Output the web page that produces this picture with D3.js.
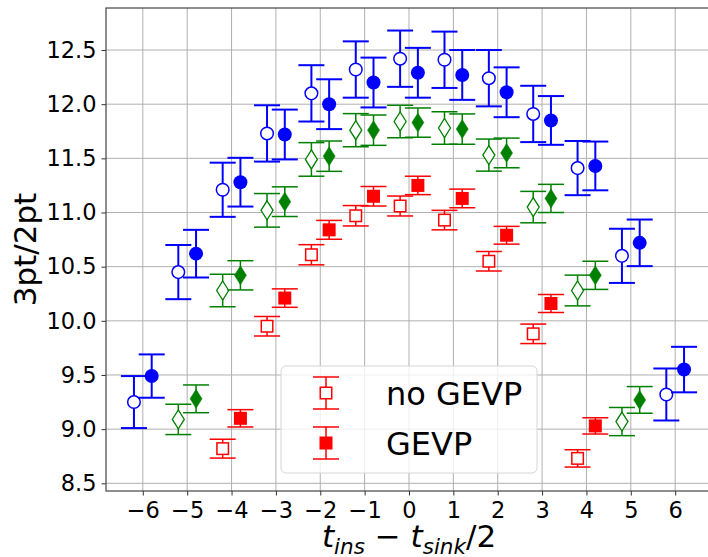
<!DOCTYPE html>
<html>
<head>
<meta charset="utf-8">
<script src="https://cdn.jsdelivr.net/npm/d3@7"></script>
<style>
	body { margin: 0; background: #fff; }
	svg { display: block; font-family: "DejaVu Sans", sans-serif; }
</style>
</head>
<body>
<div id="chart"></div>
<script>
// time slices per series
const T_BLUE = [-6, -5, -4, -3, -2, -1, 0, 1, 2, 3, 4, 5, 6];
const T_GREEN = [-5, -4, -3, -2, -1, 0, 1, 2, 3, 4, 5];
const T_RED = [-4, -3, -2, -1, 0, 1, 2, 3, 4];

// 3pt/2pt values (no GEVP = open, GEVP = filled)
const BLUE_NOGEVP = [9.25, 10.45, 11.21, 11.73, 12.10, 12.32, 12.42, 12.41, 12.24, 11.91, 11.41, 10.60, 9.32];
const BLUE_NOGEVP_ERR = [0.24, 0.25, 0.25, 0.26, 0.26, 0.26, 0.26, 0.26, 0.26, 0.26, 0.25, 0.25, 0.24];
const BLUE_GEVP = [9.49, 10.62, 11.28, 11.72, 12.00, 12.20, 12.29, 12.27, 12.11, 11.85, 11.43, 10.72, 9.55];
const BLUE_GEVP_ERR = [0.20, 0.22, 0.225, 0.23, 0.23, 0.23, 0.23, 0.23, 0.23, 0.225, 0.225, 0.215, 0.21];

const GREEN_NOGEVP = [9.09, 10.28, 11.02, 11.49, 11.76, 11.84, 11.78, 11.53, 11.05, 10.28, 9.07];
const GREEN_NOGEVP_ERR = [0.14, 0.15, 0.155, 0.155, 0.153, 0.15, 0.15, 0.148, 0.145, 0.142, 0.13];
const GREEN_GEVP = [9.28, 10.42, 11.10, 11.52, 11.76, 11.83, 11.77, 11.55, 11.13, 10.42, 9.27];
const GREEN_GEVP_ERR = [0.128, 0.135, 0.137, 0.14, 0.14, 0.135, 0.14, 0.137, 0.13, 0.13, 0.123];

const RED_NOGEVP = [8.82, 9.95, 10.61, 10.97, 11.06, 10.93, 10.55, 9.88, 8.73];
const RED_NOGEVP_ERR = [0.087, 0.09, 0.093, 0.094, 0.092, 0.09, 0.09, 0.09, 0.08];
const RED_GEVP = [9.10, 10.21, 10.84, 11.15, 11.25, 11.13, 10.79, 10.16, 9.03];
const RED_GEVP_ERR = [0.08, 0.085, 0.087, 0.09, 0.085, 0.086, 0.082, 0.083, 0.075];

const X_TICKS = [-6, -5, -4, -3, -2, -1, 0, 1, 2, 3, 4, 5, 6];
const Y_TICKS = [8.5, 9.0, 9.5, 10.0, 10.5, 11.0, 11.5, 12.0, 12.5];
const LEGEND_LABELS = ['no GEVP', 'GEVP'];

const WIDTH = 708;
const HEIGHT = 557;
const PLOT = { LEFT: 106, RIGHT: 712, TOP: 8, BOTTOM: 491 };
const SHIFT = 0.2;
const CAP = 13;

const svg = d3.select('#chart')
	.append('svg')
		.attr('width', WIDTH)
		.attr('height', HEIGHT);

const x = d3.scaleLinear()
	.domain([-6.83, 6.83])
	.range([PLOT.LEFT, PLOT.RIGHT]);

const y = d3.scaleLinear()
	.domain([8.429, 12.888])
	.range([PLOT.BOTTOM, PLOT.TOP]);

// grid
const grid = svg.append('g')
	.attr('stroke', '#b0b0b0')
	.attr('stroke-width', 1);

grid.selectAll('.vgrid')
	.data(X_TICKS)
	.enter().append('line')
		.attr('x1', d => x(d)).attr('x2', d => x(d))
		.attr('y1', PLOT.TOP).attr('y2', PLOT.BOTTOM);

grid.selectAll('.hgrid')
	.data(Y_TICKS)
	.enter().append('line')
		.attr('x1', PLOT.LEFT).attr('x2', PLOT.RIGHT)
		.attr('y1', d => y(d)).attr('y2', d => y(d));

// series
const series = [
	{ t: T_BLUE, v: BLUE_NOGEVP, e: BLUE_NOGEVP_ERR, color: '#0000ff', shape: 'circle', filled: false, shift: -SHIFT, lw: 2 },
	{ t: T_BLUE, v: BLUE_GEVP, e: BLUE_GEVP_ERR, color: '#0000ff', shape: 'circle', filled: true, shift: SHIFT, lw: 2 },
	{ t: T_GREEN, v: GREEN_NOGEVP, e: GREEN_NOGEVP_ERR, color: '#008000', shape: 'diamond', filled: false, shift: -SHIFT, lw: 1.5 },
	{ t: T_GREEN, v: GREEN_GEVP, e: GREEN_GEVP_ERR, color: '#008000', shape: 'diamond', filled: true, shift: SHIFT, lw: 1.5 },
	{ t: T_RED, v: RED_NOGEVP, e: RED_NOGEVP_ERR, color: '#ff0000', shape: 'square', filled: false, shift: -SHIFT, lw: 1.5 },
	{ t: T_RED, v: RED_GEVP, e: RED_GEVP_ERR, color: '#ff0000', shape: 'square', filled: true, shift: SHIFT, lw: 1.5 },
];

function drawMarker(g, shape, color, filled) {
	const fill = filled ? color : '#fff';
	if (shape === 'circle') {
		g.append('circle')
			.attr('r', filled ? 7 : 6.3)
			.attr('fill', fill)
			.attr('stroke', color)
			.attr('stroke-width', filled ? 0 : 1.5);
	} else if (shape === 'diamond') {
		g.append('path')
			.attr('d', 'M0,-9.5L6,0L0,9.5L-6,0Z')
			.attr('fill', fill)
			.attr('stroke', color)
			.attr('stroke-width', filled ? 0.5 : 1.3);
	} else {
		const s = filled ? 13 : 11.5;
		g.append('rect')
			.attr('x', -s / 2).attr('y', -s / 2)
			.attr('width', s).attr('height', s)
			.attr('fill', fill)
			.attr('stroke', color)
			.attr('stroke-width', filled ? 0 : 1.5);
	}
}

function drawErrorBar(g, color, lw, top, bottom) {
	g.append('line')
		.attr('x1', 0).attr('x2', 0)
		.attr('y1', top).attr('y2', bottom)
		.attr('stroke', color).attr('stroke-width', lw);
	[top, bottom].forEach(yy => {
		g.append('line')
			.attr('x1', -CAP).attr('x2', CAP)
			.attr('y1', yy).attr('y2', yy)
			.attr('stroke', color).attr('stroke-width', lw);
	});
}

series.forEach(s => {
	const pts = s.t.map((t, i) => ({ t: t + s.shift, v: s.v[i], e: s.e[i] }));
	const g = svg.append('g');
	g.selectAll('g')
		.data(pts)
		.enter().append('g')
			.attr('transform', d => `translate(${x(d.t)}, ${y(d.v)})`)
			.each(function (d) {
				const pg = d3.select(this);
				drawErrorBar(pg, s.color, s.lw, y(d.v + d.e) - y(d.v), y(d.v - d.e) - y(d.v));
				drawMarker(pg, s.shape, s.color, s.filled);
			});
});

// axes
const xAxis = d3.axisBottom(x)
	.tickValues(X_TICKS)
	.tickSize(4.5)
	.tickSizeOuter(0)
	.tickPadding(7);

const yAxis = d3.axisLeft(y)
	.tickValues(Y_TICKS)
	.tickFormat(d3.format('.1f'))
	.tickSize(4.5)
	.tickSizeOuter(0)
	.tickPadding(5);

const xAxisGroup = svg.append('g')
	.attr('transform', `translate(0, ${PLOT.BOTTOM})`)
	.call(xAxis);

const yAxisGroup = svg.append('g')
	.attr('transform', `translate(${PLOT.LEFT}, 0)`)
	.call(yAxis);

[xAxisGroup, yAxisGroup].forEach(a => {
	a.select('.domain').remove();
	a.selectAll('.tick line').attr('stroke', '#333').attr('stroke-width', 1);
	a.selectAll('.tick text')
		.attr('font-family', '"DejaVu Sans", sans-serif')
		.attr('font-size', 22.5)
		.attr('fill', '#000');
});

// frame
svg.append('rect')
	.attr('x', PLOT.LEFT).attr('y', PLOT.TOP)
	.attr('width', PLOT.RIGHT - PLOT.LEFT)
	.attr('height', PLOT.BOTTOM - PLOT.TOP)
	.attr('fill', 'none')
	.attr('stroke', '#444')
	.attr('stroke-width', 1.2);

// axis labels
svg.append('text')
	.attr('transform', `translate(36, ${(PLOT.TOP + PLOT.BOTTOM) / 2}) rotate(-90)`)
	.attr('text-anchor', 'middle')
	.attr('font-size', 31)
	.text('3pt/2pt');

const xl = svg.append('text')
	.attr('x', (PLOT.LEFT + PLOT.RIGHT) / 2)
	.attr('y', 547)
	.attr('text-anchor', 'middle')
	.attr('font-size', 31);
xl.append('tspan').attr('font-style', 'italic').text('t');
xl.append('tspan').attr('font-style', 'italic').attr('font-size', 21.5).attr('dy', 7).text('ins');
xl.append('tspan').attr('dy', -7).text(' \u2212 ');
xl.append('tspan').attr('font-style', 'italic').text('t');
xl.append('tspan').attr('font-style', 'italic').attr('font-size', 21.5).attr('dy', 7).text('sink');
xl.append('tspan').attr('dy', -7).text('/2');

// legend
const legend = svg.append('g');
legend.append('rect')
	.attr('x', 281).attr('y', 366)
	.attr('width', 256).attr('height', 107)
	.attr('rx', 5)
	.attr('fill', 'rgba(255,255,255,0.8)')
	.attr('stroke', '#d6d6d6')
	.attr('stroke-width', 1);

LEGEND_LABELS.forEach((label, i) => {
	const row = legend.append('g')
		.attr('transform', `translate(326, ${393 + i * 50})`);
	drawErrorBar(row, '#ff0000', 1.5, -16, 16);
	drawMarker(row, 'square', '#ff0000', i === 1);
	legend.append('text')
		.attr('x', 386)
		.attr('y', 393 + i * 50)
		.attr('dy', '0.36em')
		.attr('font-size', 32)
		.text(label);
});
</script>
</body>
</html>
